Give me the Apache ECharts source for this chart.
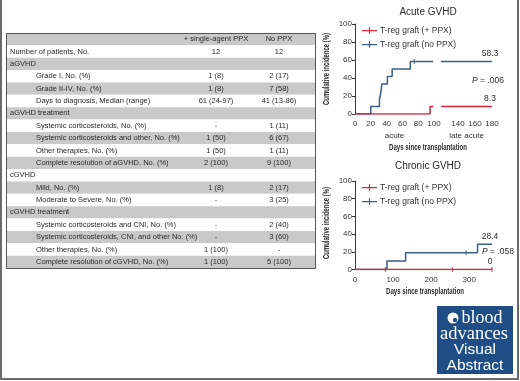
<!DOCTYPE html>
<html>
<head>
<meta charset="utf-8">
<script src="https://cdn.jsdelivr.net/npm/echarts@6/dist/echarts.min.js"></script>
<style>
html, body { margin: 0; padding: 0; background: #fff; }
#main { width: 520px; height: 381px; }
</style>
</head>
<body>
<div id="main"></div>
<script>
// ---- table ----
var columnHeaders = ['+ single-agent PPX', 'No PPX'];
var rowLabels = [
  'Number of patients, No.',
  'aGVHD',
  'Grade I, No. (%)',
  'Grade II-IV, No. (%)',
  'Days to diagnosis, Median (range)',
  'aGVHD treatment',
  'Systemic corticosteroids, No. (%)',
  'Systemic corticosteroids and other, No. (%)',
  'Other therapies, No. (%)',
  'Complete resolution of aGVHD, No. (%)',
  'cGVHD',
  'Mild, No. (%)',
  'Moderate to Severe, No. (%)',
  'cGVHD treatment',
  'Systemic corticosteroids and CNI, No. (%)',
  'Systemic corticosteroids, CNI, and other No. (%)',
  'Other therapies, No. (%)',
  'Complete resolution of cGVHD, No. (%)'
];
var ppxValues = ['12', null, '1 (8)', '1 (8)', '61 (24-97)', null, '-', '1 (50)', '1 (50)', '2 (100)',
  null, '1 (8)', '-', null, '-', '-', '1 (100)', '1 (100)'];
var noPpxValues = ['12', null, '2 (17)', '7 (58)', '41 (13-86)', null, '1 (11)', '6 (67)', '1 (11)', '9 (100)',
  null, '2 (17)', '3 (25)', null, '2 (40)', '3 (60)', '-', '5 (100)'];

// ---- acute GVHD (days 0-100, then late acute 120-180) ----
var acuteNoPpxEarly = [[0, 0], [20, 8.3], [31, 16.7], [33, 25], [34, 33.3], [41, 41.7], [47, 50], [70, 58.3], [99, 58.3]];
var acuteNoPpxLate = [[120, 58.3], [180, 58.3]];
var acuteNoPpxCensor = [[75, 58.3]];
var acutePpxEarly = [[0, 0], [95, 8.3], [99, 8.3]];
var acutePpxLate = [[120, 8.3], [180, 8.3]];
var acutePValue = '.006';

// ---- chronic GVHD ----
var chronicNoPpx = [[0, 0], [84, 9.5], [133, 19], [322, 28.4], [360, 28.4]];
var chronicNoPpxCensor = [[292, 19]];
var chronicPpx = [[0, 0], [360, 0]];
var chronicPpxCensor = [[80, 0], [256, 0], [360, 0]];
var chronicPValue = '.058';

var NAME_PPX = 'T-reg graft (+ PPX)';
var NAME_NO = 'T-reg graft (no PPX)';

var RED = '#d8253f', BLUE = '#3c5f82', INK = '#2a2a2a';
var FONT = '"Liberation Sans", Arial, sans-serif';

var tableRows = [{ label: '', a: columnHeaders[0], b: columnHeaders[1] }];
rowLabels.forEach(function (l, i) {
  tableRows.push({ label: l, a: ppxValues[i], b: noPpxValues[i], indent: i > 0 && ppxValues[i] !== null });
});

var measureCtx = document.createElement('canvas').getContext('2d');
function fitScale(text, font, width) {
  measureCtx.font = font;
  return width / measureCtx.measureText(text).width;
}

function renderRow(params, api) {
  var i = api.value(1);
  var c = api.coord([0, i]);
  var h = api.size([0, 1])[1];
  var cs = params.coordSys;
  var row = tableRows[i];
  var font = '7.5px ' + FONT;
  var kids = [{
    type: 'rect',
    shape: { x: cs.x, y: c[1] - h / 2, width: cs.width, height: h },
    style: { fill: i % 2 === 0 ? '#c9c9c9' : '#ffffff' }
  }];
  if (row.label) kids.push({ type: 'text', x: cs.x + (row.indent ? 30 : 4), y: c[1],
    style: { text: row.label, font: font, fill: INK, align: 'left', verticalAlign: 'middle' } });
  if (row.a !== null) kids.push({ type: 'text', x: cs.x + 210, y: c[1],
    style: { text: row.a, font: font, fill: INK, align: 'center', verticalAlign: 'middle' } });
  if (row.b !== null) kids.push({ type: 'text', x: cs.x + 273, y: c[1],
    style: { text: row.b, font: font, fill: INK, align: 'center', verticalAlign: 'middle' } });
  return { type: 'group', children: kids };
}

var axisText = { fontSize: 8, color: '#333', fontFamily: FONT };
function yAxis(grid, show) {
  return {
    gridIndex: grid, type: 'value', min: 0, max: 100, interval: 20, show: show,
    axisLine: { show: true, lineStyle: { color: '#333', width: 1 } },
    axisTick: { show: true, length: 3, lineStyle: { color: '#333' } },
    axisLabel: Object.assign({ margin: 3 }, axisText),
    splitLine: { show: false }
  };
}
function xAxis(grid, min, max, interval, name, extra) {
  return Object.assign({
    gridIndex: grid, type: 'value', min: min, max: max, interval: interval,
    axisLine: { show: false }, axisTick: { show: false },
    axisLabel: Object.assign({ margin: 6 }, axisText),
    splitLine: { show: false },
    name: name, nameLocation: 'middle', nameGap: 18,
    nameTextStyle: axisText
  }, extra || {});
}

function step(name, color, x, y, data, mark) {
  var s = {
    name: name, type: 'line', step: 'end', xAxisIndex: x, yAxisIndex: y, data: data,
    showSymbol: false, symbol: 'none', silent: true,
    lineStyle: { color: color, width: 1.5 }, itemStyle: { color: color }
  };
  if (mark) {
    s.markPoint = {
      symbol: 'circle', symbolSize: 1, silent: true, itemStyle: { color: 'rgba(0,0,0,0)' },
      label: { show: true, position: 'top', distance: 3, offset: [-2, 0], fontSize: 8.5,
        color: INK, fontFamily: FONT, formatter: function (p) { return String(p.data.coord[1]); } },
      data: [{ coord: mark }]
    };
  }
  return s;
}
function censor(name, color, x, y, data) {
  return {
    name: name, type: 'scatter', xAxisIndex: x, yAxisIndex: y, data: data, silent: true,
    symbol: 'rect', symbolSize: [1.2, 5], itemStyle: { color: color }
  };
}

var legendIcon = 'path://M0,4h20v1.6h-20z M9.2,0.5h1.6v8.5h-1.6z';
function legend(top) {
  return {
    left: 357, top: top, orient: 'vertical', itemGap: 5, itemWidth: 15, itemHeight: 7,
    selectedMode: false,
    textStyle: { fontSize: 8.5, color: '#333', fontFamily: FONT, padding: [0, 0, 0, -2] },
    data: [{ name: NAME_PPX, icon: legendIcon }, { name: NAME_NO, icon: legendIcon }]
  };
}

var condensed = 'bold 9px ' + FONT;
var xName = 'Days since transplantation';
var yName = 'Cumulative incidence (%)';
var xScale = fitScale(xName, condensed, 78);
var yScale = fitScale(yName, condensed, 72);

function txt(x, y, text, font, extra) {
  return Object.assign({ type: 'text', x: x, y: y, silent: true, z: 20,
    style: { text: text, font: font, fill: INK, align: 'center', verticalAlign: 'middle' } }, extra || {});
}
function whiteTxt(x, y, text, font) {
  return { type: 'text', x: x, y: y, silent: true, z: 21,
    style: { text: text, font: font, fill: '#fff', align: 'center', verticalAlign: 'middle' } };
}
function pText(x, y, v) {
  return { type: 'text', x: x, y: y, silent: true, z: 20,
    style: { text: '{i|P} = ' + v, font: '8.5px ' + FONT, fill: INK, align: 'center', verticalAlign: 'middle',
      rich: { i: { fontStyle: 'italic', fontSize: 8.5, fontFamily: FONT, fill: INK } } } };
}

var option = {
  animation: false,
  backgroundColor: '#fff',
  grid: [
    { left: 6, top: 33, width: 309, height: 235, outerBoundsMode: 'none' },
    { left: 355, top: 24, width: 79, height: 90, outerBoundsMode: 'none' },
    { left: 441, top: 24, width: 51, height: 90, outerBoundsMode: 'none' },
    { left: 355, top: 181, width: 137, height: 88.5, outerBoundsMode: 'none' }
  ],
  xAxis: [
    { gridIndex: 0, type: 'value', min: 0, max: 1, show: false },
    xAxis(1, 0, 100, 20, 'acute'),
    xAxis(2, 120, 180, 20, 'late acute', { axisLabel: Object.assign({ margin: 6, showMinLabel: false }, axisText) }),
    xAxis(3, 0, 360, 100, '', { axisLabel: Object.assign({ margin: 6, showMaxLabel: false }, axisText) })
  ],
  yAxis: [
    { gridIndex: 0, type: 'category', inverse: true, show: false, data: tableRows.map(function (r, i) { return i; }) },
    yAxis(1, true),
    yAxis(2, false),
    yAxis(3, true)
  ],
  legend: [legend(21), legend(178)],
  series: [
    { type: 'custom', xAxisIndex: 0, yAxisIndex: 0, silent: true, renderItem: renderRow,
      data: tableRows.map(function (r, i) { return [0, i]; }) },
    step(NAME_NO, BLUE, 1, 1, acuteNoPpxEarly),
    censor(NAME_NO, BLUE, 1, 1, acuteNoPpxCensor),
    step(NAME_NO, BLUE, 2, 2, acuteNoPpxLate, acuteNoPpxLate[acuteNoPpxLate.length - 1]),
    step(NAME_PPX, RED, 1, 1, acutePpxEarly),
    step(NAME_PPX, RED, 2, 2, acutePpxLate, acutePpxLate[acutePpxLate.length - 1]),
    step(NAME_NO, BLUE, 3, 3, chronicNoPpx, chronicNoPpx[chronicNoPpx.length - 1]),
    censor(NAME_NO, BLUE, 3, 3, chronicNoPpxCensor),
    step(NAME_PPX, RED, 3, 3, chronicPpx, chronicPpx[chronicPpx.length - 1]),
    censor(NAME_PPX, RED, 3, 3, chronicPpxCensor)
  ],
  graphic: [
    { type: 'rect', silent: true, z: 20, shape: { x: 1, y: -5, width: 517, height: 384 },
      style: { fill: 'none', stroke: '#6b6b6b', lineWidth: 2 } },
    { type: 'rect', silent: true, z: 20, shape: { x: 6.5, y: 33.5, width: 309, height: 235 },
      style: { fill: 'none', stroke: '#555', lineWidth: 1 } },
    txt(428, 12, 'Acute GVHD', '10px ' + FONT),
    txt(428, 166, 'Chronic GVHD', '10px ' + FONT),
    txt(428, 148, xName, condensed, { scaleX: xScale }),
    txt(425, 292, xName, condensed, { scaleX: xScale }),
    txt(327, 69, yName, condensed, { rotation: Math.PI / 2, scaleX: yScale }),
    txt(327, 223, yName, condensed, { rotation: Math.PI / 2, scaleX: yScale }),
    pText(488, 81, acutePValue),
    pText(498, 252, chronicPValue),
    // blood advances badge
    { type: 'rect', silent: true, z: 20, shape: { x: 437, y: 306, width: 76, height: 68 }, style: { fill: '#1f4d86' } },
    { type: 'circle', silent: true, z: 21, shape: { cx: 453, cy: 318, r: 5.5 }, style: { fill: '#fff' } },
    { type: 'circle', silent: true, z: 22, shape: { cx: 455, cy: 320, r: 2.2 }, style: { fill: '#1f4d86' } },
    whiteTxt(482, 318, 'blood', '18px "Liberation Serif", serif'),
    whiteTxt(474, 334, 'advances', '18.5px "Liberation Serif", serif'),
    whiteTxt(475, 350, 'Visual', '15.5px ' + FONT),
    whiteTxt(475, 366, 'Abstract', '15.5px ' + FONT)
  ]
};

var chart = echarts.init(document.getElementById('main'));
chart.setOption(option);
</script>
</body>
</html>
